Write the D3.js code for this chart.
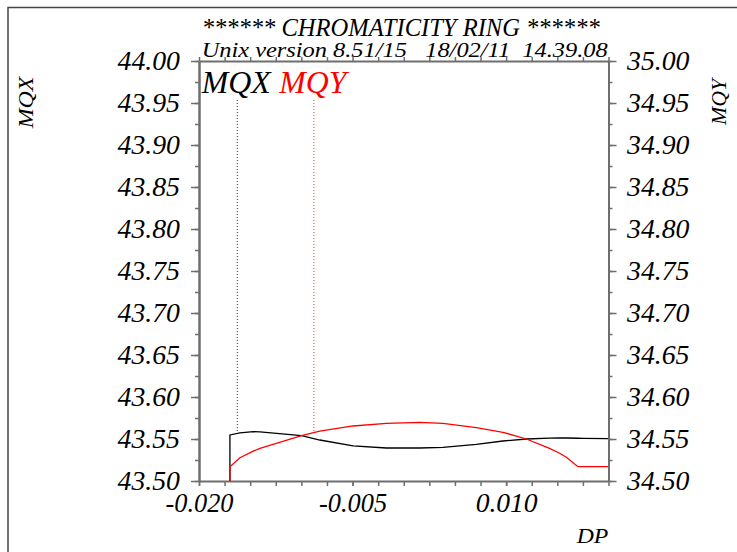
<!DOCTYPE html>
<html>
<head>
<meta charset="utf-8">
<script src="https://cdn.jsdelivr.net/npm/d3@7"></script>
<style>
  body { margin: 0; background: #fff; }
</style>
</head>
<body>
<script>
const title = '****** CHROMATICITY RING ******'
const subtitle = 'Unix version 8.51/15   18/02/11  14.39.08'
const seriesNames = ['MQX', 'MQY']
const seriesColors = ['#000000', '#ff0000']

const dp = [-0.01698, -0.01698, -0.0160, -0.0147, -0.01405, -0.00998, -0.0082, -0.00495, -0.00169, 0.00156,
            0.00383, 0.00709, 0.00969, 0.01198, 0.01424, 0.01523, 0.01588, 0.01702, 0.01751, 0.01995]
const mqx = [43.500, 43.5548, 43.5572, 43.5587, 43.5586, 43.5539, 43.5488, 43.5417, 43.5393, 43.5393,
             43.5401, 43.5437, 43.5476, 43.5500, 43.5510, 43.5512, 43.5512, 43.5509, 43.5508, 43.5504]
const mqy = [34.500, 34.5170, 34.5277, 34.5355, 34.5389, 34.5539, 34.5595, 34.5655, 34.5687, 34.5699,
             34.5687, 34.5635, 34.5580, 34.5500, 34.5389, 34.5330, 34.5282, 34.5170, 34.5170, 34.5170]
const markerDp = [-0.01626, -0.00878]

const xDomain = [-0.02, 0.02]
const xTicks = d3.range(0, 17).map(i => -0.02 + i * 0.0025)
const xLabels = [-0.020, -0.005, 0.010]
const mqxDomain = [43.5, 44.0]
const mqyDomain = [34.5, 35.0]
const yMinor = d3.range(0, 21).map(i => i * 0.025)
const yMajor = d3.range(0, 11).map(i => i * 0.05)

const width = 737
const height = 552
const margin = ({ top: 61, right: 128.5, bottom: 71, left: 199 })
const axisColor = '#6e6e6e'
const font = "'Liberation Serif', 'Times New Roman', Times, serif"

const svg = d3.select('body')
  .append('svg')
  .attr('width', width)
  .attr('height', height)
  .attr('viewBox', [0, 0, width, height])
  .attr('font-family', font)
  .attr('font-style', 'italic')

svg.append('rect')
  .attr('x', 8).attr('y', 7.5)
  .attr('width', width).attr('height', height)
  .attr('fill', 'none')
  .attr('stroke', '#444')
  .attr('stroke-width', 1.5)

const x = d3.scaleLinear().domain(xDomain).range([margin.left, width - margin.right])
const yL = d3.scaleLinear().domain(mqxDomain).range([height - margin.bottom, margin.top])
const yR = d3.scaleLinear().domain(mqyDomain).range([height - margin.bottom, margin.top])

const styleAxis = g => {
  g.attr('font-family', font).attr('font-size', 27)
  g.select('.domain').attr('stroke', axisColor).attr('stroke-width', 2)
  g.selectAll('.tick line').attr('stroke', axisColor).attr('stroke-width', 1.5)
  g.selectAll('.tick text')
    .attr('fill', '#000')
    .attr('font-family', font)
    .attr('font-style', 'italic')
    .attr('lengthAdjust', 'spacingAndGlyphs')
}

// bottom / top
svg.append('g')
  .attr('transform', `translate(0,${height - margin.bottom})`)
  .call(d3.axisBottom(x).tickValues(xTicks).tickSize(5).tickSizeOuter(0).tickFormat(''))
  .call(styleAxis)
svg.append('g')
  .attr('transform', `translate(0,${height - margin.bottom})`)
  .call(d3.axisBottom(x).tickValues(xLabels).tickSize(5).tickPadding(6.5).tickFormat(d3.format('.3f')))
  .call(styleAxis)
  .call(g => g.select('.domain').remove())
  .call(g => g.selectAll('.tick text')
    .text(d => d3.format('.3f')(d).replace('−', '-'))
    .attr('textLength', d => d < 0 ? 68 : 62))
svg.append('g')
  .attr('transform', `translate(0,${margin.top})`)
  .call(d3.axisTop(x).tickValues(xTicks).tickSize(4).tickSizeOuter(0).tickFormat(''))
  .call(styleAxis)

// left / right
const sideAxis = (axis, scale, dom, pad, shift) => {
  svg.append('g')
    .attr('transform', `translate(${shift},0)`)
    .call(axis(scale).tickValues(yMinor.map(v => dom[0] + v)).tickSize(4).tickSizeOuter(0).tickFormat(''))
    .call(styleAxis)
  svg.append('g')
    .attr('transform', `translate(${shift},0)`)
    .call(axis(scale).tickValues(yMajor.map(v => dom[0] + v)).tickSize(8).tickPadding(pad).tickSizeOuter(0).tickFormat(d3.format('.2f')))
    .call(styleAxis)
    .call(g => g.selectAll('.tick text').attr('dy', '0.33em').attr('textLength', 62.5))
}
sideAxis(d3.axisLeft, yL, mqxDomain, 11, margin.left)
sideAxis(d3.axisRight, yR, mqyDomain, 10.5, width - margin.right)

// curves
const lineL = d3.line().x((d, i) => x(dp[i])).y(d => yL(d))
const lineR = d3.line().x((d, i) => x(dp[i])).y(d => yR(d))
svg.append('path').datum(mqx).attr('d', lineL)
  .attr('fill', 'none').attr('stroke', seriesColors[0]).attr('stroke-width', 1.3)
svg.append('path').datum(mqy).attr('d', lineR)
  .attr('fill', 'none').attr('stroke', seriesColors[1]).attr('stroke-width', 1.3)

// markers from legend to curve
const interp = (xs, ys, v) => {
  for (let i = 1; i < xs.length; i++) {
    if (v <= xs[i] && xs[i] > xs[i - 1]) {
      const t = (v - xs[i - 1]) / (xs[i] - xs[i - 1])
      return ys[i - 1] + t * (ys[i] - ys[i - 1])
    }
  }
  return ys[ys.length - 1]
}
const markerY = [yL(interp(dp, mqx, markerDp[0])), yR(interp(dp, mqy, markerDp[1]))]
markerDp.forEach((m, i) => {
  svg.append('line')
    .attr('x1', x(m)).attr('x2', x(m))
    .attr('y1', 100).attr('y2', markerY[i])
    .attr('stroke', seriesColors[i])
    .attr('stroke-width', 0.8)
    .attr('stroke-dasharray', '1,2')
})

// legend
const legendX = [201.7, 279.3]
const legendW = [69, 67]
seriesNames.forEach((name, i) => {
  svg.append('text')
    .attr('x', legendX[i]).attr('y', 93.3)
    .attr('font-size', 32.5)
    .attr('fill', seriesColors[i])
    .attr('textLength', legendW[i])
    .attr('lengthAdjust', 'spacingAndGlyphs')
    .text(name)
})

// titles
svg.append('text')
  .attr('x', 201.7).attr('y', 35.5)
  .attr('font-size', 24.5)
  .attr('textLength', 398)
  .attr('lengthAdjust', 'spacingAndGlyphs')
  .style('white-space', 'pre')
  .text(title)
svg.append('text')
  .attr('x', 201.7).attr('y', 57)
  .attr('font-size', 21.5)
  .attr('textLength', 406)
  .attr('lengthAdjust', 'spacingAndGlyphs')
  .style('white-space', 'pre')
  .text(subtitle)

svg.append('text')
  .attr('x', 576.7).attr('y', 542.7)
  .attr('font-size', 22)
  .attr('textLength', 31.6)
  .attr('lengthAdjust', 'spacingAndGlyphs')
  .text('DP')

svg.append('text')
  .attr('transform', 'translate(33.3,102.5) rotate(-90)')
  .attr('text-anchor', 'middle')
  .attr('font-size', 22)
  .attr('textLength', 51.7)
  .attr('lengthAdjust', 'spacingAndGlyphs')
  .text(seriesNames[0])
svg.append('text')
  .attr('transform', 'translate(726,102) rotate(-90)')
  .attr('text-anchor', 'middle')
  .attr('font-size', 20)
  .attr('textLength', 46)
  .attr('lengthAdjust', 'spacingAndGlyphs')
  .text(seriesNames[1])
</script>
</body>
</html>
